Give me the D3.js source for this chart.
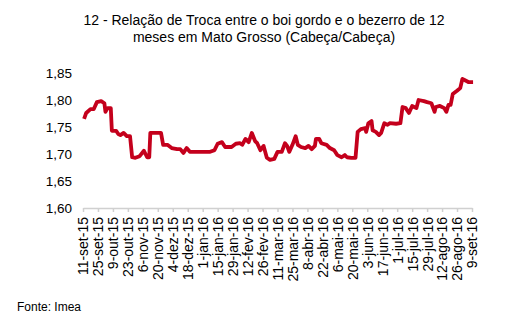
<!DOCTYPE html>
<html><head><meta charset="utf-8">
<script src="https://cdn.jsdelivr.net/npm/d3@7"></script>
<style>body{margin:0;background:#fff}svg{display:block;font-family:"Liberation Sans",Arial,sans-serif}</style>
</head><body><svg id="c" width="507" height="330"></svg>
<script>
const titleLines = ["12 - Relação de Troca entre o boi gordo e o bezerro de 12", "meses em Mato Grosso (Cabeça/Cabeça)"];
const source = "Fonte: Imea";
const startDate = "2015-09-11";
// days since 11-set-15
const dayOffsets = [1,3,7,10,13,17,20,21,23,26,27,31,33,35,38,41,44,46,49,53,57,60,62,63,68,73,75,79,83,88,91,94,97,100,109,119,123,126,130,133,139,143,147,149,152,155,158,161,163,166,169,172,175,179,182,186,189,191,193,196,199,201,204,208,211,214,217,218,221,223,228,231,235,238,242,245,247,251,255,257,260,264,265,267,270,271,274,277,279,282,285,287,293,297,299,302,305,308,312,314,319,322,326,329,330,334,338,340,342,344,346,350,353,355,357,361,365];
const values = [1.765,1.776,1.783,1.783,1.796,1.798,1.794,1.778,1.785,1.785,1.743,1.743,1.737,1.735,1.739,1.733,1.733,1.694,1.693,1.696,1.706,1.694,1.694,1.739,1.739,1.739,1.717,1.717,1.711,1.709,1.709,1.702,1.711,1.704,1.704,1.704,1.707,1.719,1.722,1.713,1.713,1.719,1.720,1.717,1.728,1.722,1.739,1.724,1.720,1.707,1.715,1.693,1.689,1.691,1.704,1.704,1.720,1.715,1.704,1.717,1.733,1.717,1.713,1.711,1.715,1.709,1.715,1.728,1.728,1.720,1.717,1.711,1.707,1.698,1.694,1.698,1.694,1.693,1.693,1.741,1.746,1.748,1.741,1.757,1.761,1.744,1.741,1.735,1.739,1.757,1.754,1.757,1.756,1.757,1.787,1.785,1.776,1.789,1.785,1.800,1.798,1.796,1.794,1.778,1.787,1.789,1.785,1.778,1.791,1.791,1.811,1.817,1.822,1.839,1.837,1.833,1.833];
const tickLabels = ["11-set-15","25-set-15","9-out-15","23-out-15","6-nov-15","20-nov-15","4-dez-15","18-dez-15","1-jan-16","15-jan-16","29-jan-16","12-fev-16","26-fev-16","11-mar-16","25-mar-16","8-abr-16","22-abr-16","6-mai-16","20-mai-16","3-jun-16","17-jun-16","1-jul-16","15-jul-16","29-jul-16","12-ago-16","26-ago-16","9-set-16"];
const yTicks = [1.60,1.65,1.70,1.75,1.80,1.85];

const svg = d3.select("#c");
const t0 = d3.timeParse("%Y-%m-%d")(startDate);
const addDays = n => d3.timeDay.offset(t0, n);
const data = dayOffsets.map((d,i)=>({date:addDays(d), v:values[i]}));
const tickDates = tickLabels.map((l,i)=>addDays(i*14));

const x = d3.scaleTime().domain([tickDates[0], tickDates[tickDates.length-1]]).range([83, 472]);
const y = d3.scaleLinear().domain([1.60,1.85]).range([208, 73]);

// title
svg.append("g").selectAll("text").data(titleLines).join("text")
  .attr("x", 264).attr("y",(d,i)=>25+i*17).attr("text-anchor","middle")
  .attr("font-size",14).attr("fill","#000").text(d=>d);

// y labels
svg.append("g").selectAll("text").data(yTicks).join("text")
  .attr("x",72).attr("y",d=>y(d)).attr("dy","0.35em").attr("text-anchor","end")
  .attr("font-size",13.5).attr("fill","#000").text(d=>d3.format(".2f")(d).replace(".",","));

// x axis
const xAxis = d3.axisBottom(x).tickValues(tickDates).tickFormat((d,i)=>tickLabels[i]).tickSize(4).tickSizeOuter(0);
const gx = svg.append("g").attr("transform","translate(0,208)").call(xAxis);
gx.select(".domain").attr("stroke","#d0d0d0").attr("stroke-width",1.5);
gx.selectAll(".tick line").attr("stroke","#d0d0d0").attr("stroke-width",1.5);
gx.selectAll(".tick text").attr("font-size",14).attr("fill","#000")
  .attr("font-family","Liberation Sans, Arial, sans-serif")
  .attr("transform","rotate(-90)").attr("text-anchor","end")
  .attr("x",-9).attr("y",0).attr("dy","0.35em");

// line
svg.append("path").datum(data)
  .attr("fill","none").attr("stroke","#c4001c").attr("stroke-width",3.8)
  .attr("stroke-linejoin","round")
  .attr("d", d3.line().x(d=>x(d.date)).y(d=>y(d.v)));

svg.append("text").attr("x",17).attr("y",311).attr("font-size",12).attr("fill","#000").text(source);
</script></body></html>
